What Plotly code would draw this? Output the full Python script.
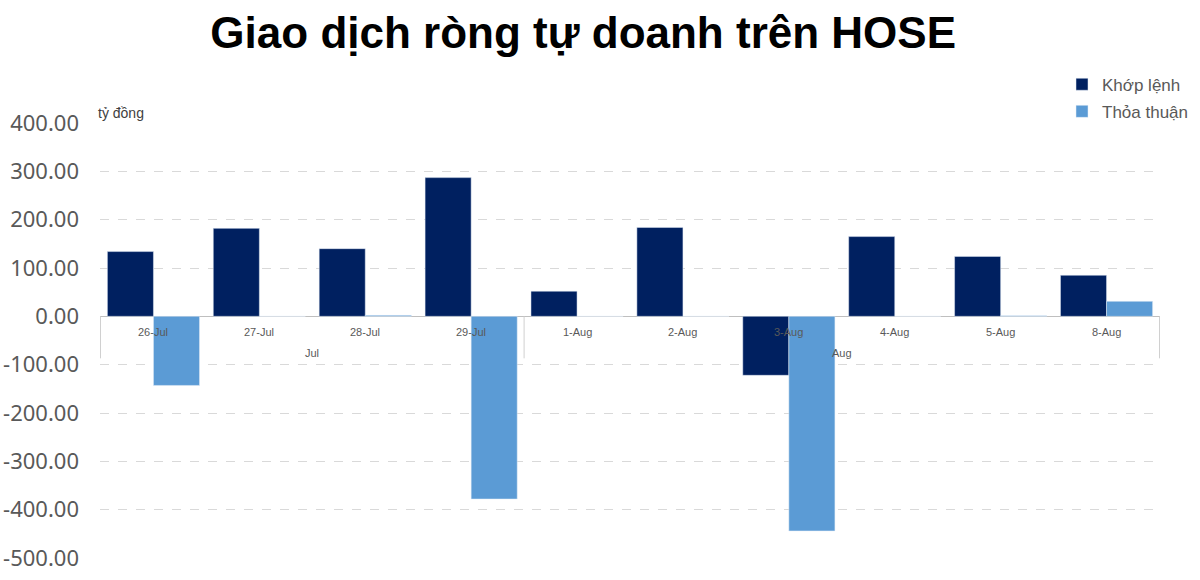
"""Giao dich rong tu doanh tren HOSE - grouped bar chart."""

import plotly.graph_objects as go

months = ["Jul", "Jul", "Jul", "Jul", "Aug", "Aug", "Aug", "Aug", "Aug", "Aug"]
days = ["26-Jul", "27-Jul", "28-Jul", "29-Jul", "1-Aug", "2-Aug", "3-Aug", "4-Aug", "5-Aug", "8-Aug"]
khop_lenh = [134, 182, 140, 287, 52, 184, -122, 165, 124, 85]
thoa_thuan = [-143, 0, 2, -378, 0, 0, -444, 0, 1, 31]

y_min, y_max = -500, 400
y_ticks = list(range(y_min, y_max + 1, 100))
# Excel style labels: plain hyphen for negatives, two decimals
y_tick_text = [f"{v:.2f}" for v in y_ticks]

fig = go.Figure()
fig.add_trace(go.Bar(x=days, y=khop_lenh, name="Khớp lệnh",
                     marker_color="#002060", legendgroup="a"))
fig.add_trace(go.Bar(x=days, y=thoa_thuan, name="Thỏa thuận",
                     marker_color="#5B9BD5", legendgroup="b"))

fig.update_layout(
    width=1200,
    height=580,
    margin=dict(l=100, r=40, t=123, b=22, autoexpand=False),
    plot_bgcolor="white",
    paper_bgcolor="white",
    font=dict(family="Liberation Sans, Arial, sans-serif", color="#595959"),
    title=dict(
        text="<b>Giao dịch ròng tự doanh trên HOSE</b>",
        x=0.486,
        xanchor="center",
        y=0.943,
        yanchor="middle",
        font=dict(size=44, color="black", family="Liberation Sans, Arial, sans-serif"),
    ),
    barmode="group",
    bargap=0.13,
    bargroupgap=0,
    legend=dict(
        xref="container",
        yref="container",
        x=0.995,
        xanchor="right",
        y=0.885,
        yanchor="top",
        font=dict(size=17, color="#595959"),
        bgcolor="rgba(0,0,0,0)",
        tracegroupgap=2,
    ),
    xaxis=dict(
        type="category",
        showticklabels=False,
        showline=False,
        showgrid=False,
        ticks="",
        automargin=False,
    ),
    yaxis=dict(
        range=[y_min, y_max],
        tickmode="array",
        tickvals=y_ticks,
        ticktext=y_tick_text,
        showgrid=True,
        gridcolor="#d9d9d9",
        griddash="dash",
        zeroline=True,
        zerolinecolor="#bfbfbf",
        zerolinewidth=1,
        tickfont=dict(size=22, color="#595959", family="Noto Sans, Open Sans, sans-serif"),
        ticklabelstandoff=20,
        automargin=False,
    ),
)

# Excel-like two-level category axis sitting on the zero line
for d in days:
    fig.add_annotation(x=d, y=0, text=d, showarrow=False, yanchor="top", yshift=-8,
                       font=dict(size=11, color="#595959"))

groups = []
for i, m in enumerate(months):
    if not groups or groups[-1][0] != m:
        groups.append([m, i, i])
    else:
        groups[-1][2] = i

px_per_unit = (580 - 123 - 22) / (y_max - y_min)
divider_depth = -42 / px_per_unit
for m, start, end in groups:
    fig.add_annotation(x=(start + end) / 2, y=0, text=m, showarrow=False, yanchor="top",
                       yshift=-29, font=dict(size=11, color="#595959"))
for b in [groups[0][1] - 0.5] + [g[2] + 0.5 for g in groups]:
    fig.add_shape(type="line", xref="x", yref="y", x0=b, x1=b, y0=0, y1=divider_depth,
                  line=dict(color="#d0d0d0", width=1), layer="above")

fig.add_annotation(
    text="tỷ đồng",
    xref="paper",
    yref="paper",
    x=-0.004,
    y=1.0,
    xanchor="left",
    yanchor="bottom",
    showarrow=False,
    font=dict(size=14, color="#404040"),
)

# drop the default 8px body margin so the figure fills the window
fig.write_html("out.html", config={"displayModeBar": False},
               post_script="document.body.style.margin='0';")
